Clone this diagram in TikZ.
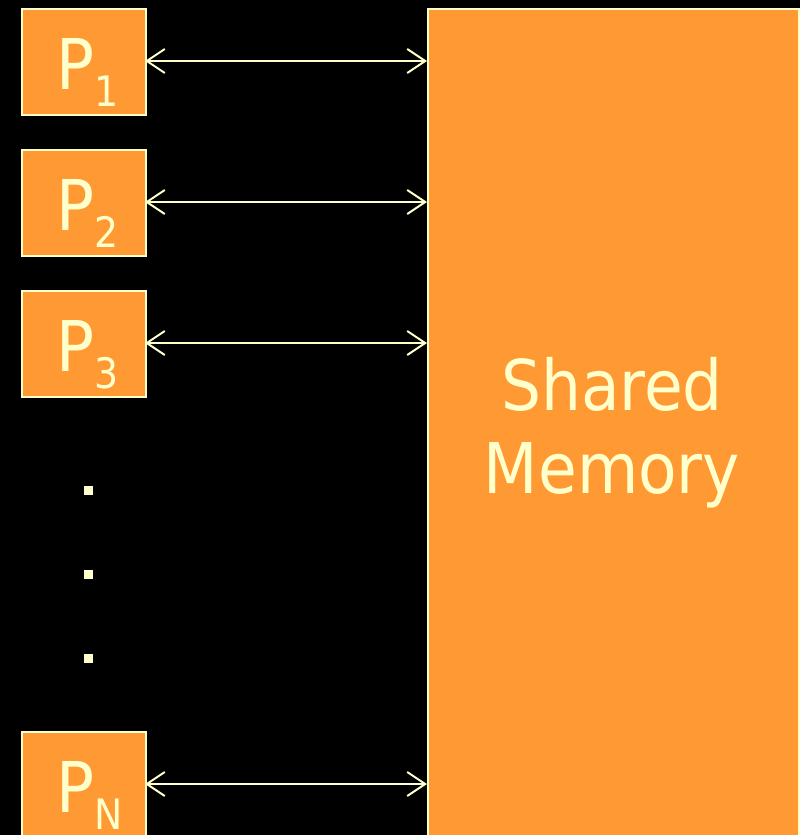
\documentclass[tikz,border=0pt]{standalone}
\usepackage{fontspec}
\setmainfont{DejaVu Sans Condensed}
\usetikzlibrary{arrows.meta}
\definecolor{orng}{HTML}{FF9933}
\definecolor{pale}{HTML}{FFFFCC}
\tikzset{
  procbox/.style={draw=pale, line width=2pt, fill=orng, minimum width=124pt, minimum height=106pt, inner sep=0pt, anchor=north west},
  memlink/.style={draw=pale, line width=2pt, {Straight Barb[length=18pt,width=24pt]}-{Straight Barb[length=18pt,width=24pt]}},
  dotsq/.style={fill=pale, minimum size=9pt, inner sep=0pt},
  lbl/.style={text=pale, font=\fontsize{70}{70}\selectfont}
}
\newcommand{\plabel}[1]{P\raisebox{-17pt}{\fontsize{42}{42}\selectfont #1}}
\begin{document}
\begin{tikzpicture}[x=1pt,y=-1pt]
\useasboundingbox (0,0) rectangle (800,835);
\fill[black] (0,0) rectangle (800,835);
\clip (0,0) rectangle (800,835);
\node[procbox] (p1) at (21,8) {};
\node[procbox] (p2) at (21,149) {};
\node[procbox] (p3) at (21,290) {};
\node[procbox] (pn) at (21,731) {};
\node[draw=pale, line width=2pt, fill=orng, minimum width=371pt, minimum height=850pt, inner sep=0pt, anchor=north west] (mem) at (427,8) {};
\node[lbl, anchor=base west] (t1) at (53,89) {\plabel{1}};
\node[lbl, anchor=base west] (t2) at (53,230) {\plabel{2}};
\node[lbl, anchor=base west] (t3) at (53,371) {\plabel{3}};
\node[lbl, anchor=base west] (tn) at (53,812) {\plabel{N}};
\node[lbl, align=center, anchor=base] (mt) at (612,493) {Shared\\[13pt]Memory};
\coordinate (a1) at (145,61); \coordinate (b1) at (427,61);
\coordinate (a2) at (145,202); \coordinate (b2) at (427,202);
\coordinate (a3) at (145,343); \coordinate (b3) at (427,343);
\coordinate (an) at (145,784); \coordinate (bn) at (427,784);
\draw[memlink] (a1) -- (b1);
\draw[memlink] (a2) -- (b2);
\draw[memlink] (a3) -- (b3);
\draw[memlink] (an) -- (bn);
\node[dotsq] (d1) at (88.5,490) {};
\node[dotsq] (d2) at (88.5,574.5) {};
\node[dotsq] (d3) at (88.5,658.5) {};
\end{tikzpicture}
\end{document}
